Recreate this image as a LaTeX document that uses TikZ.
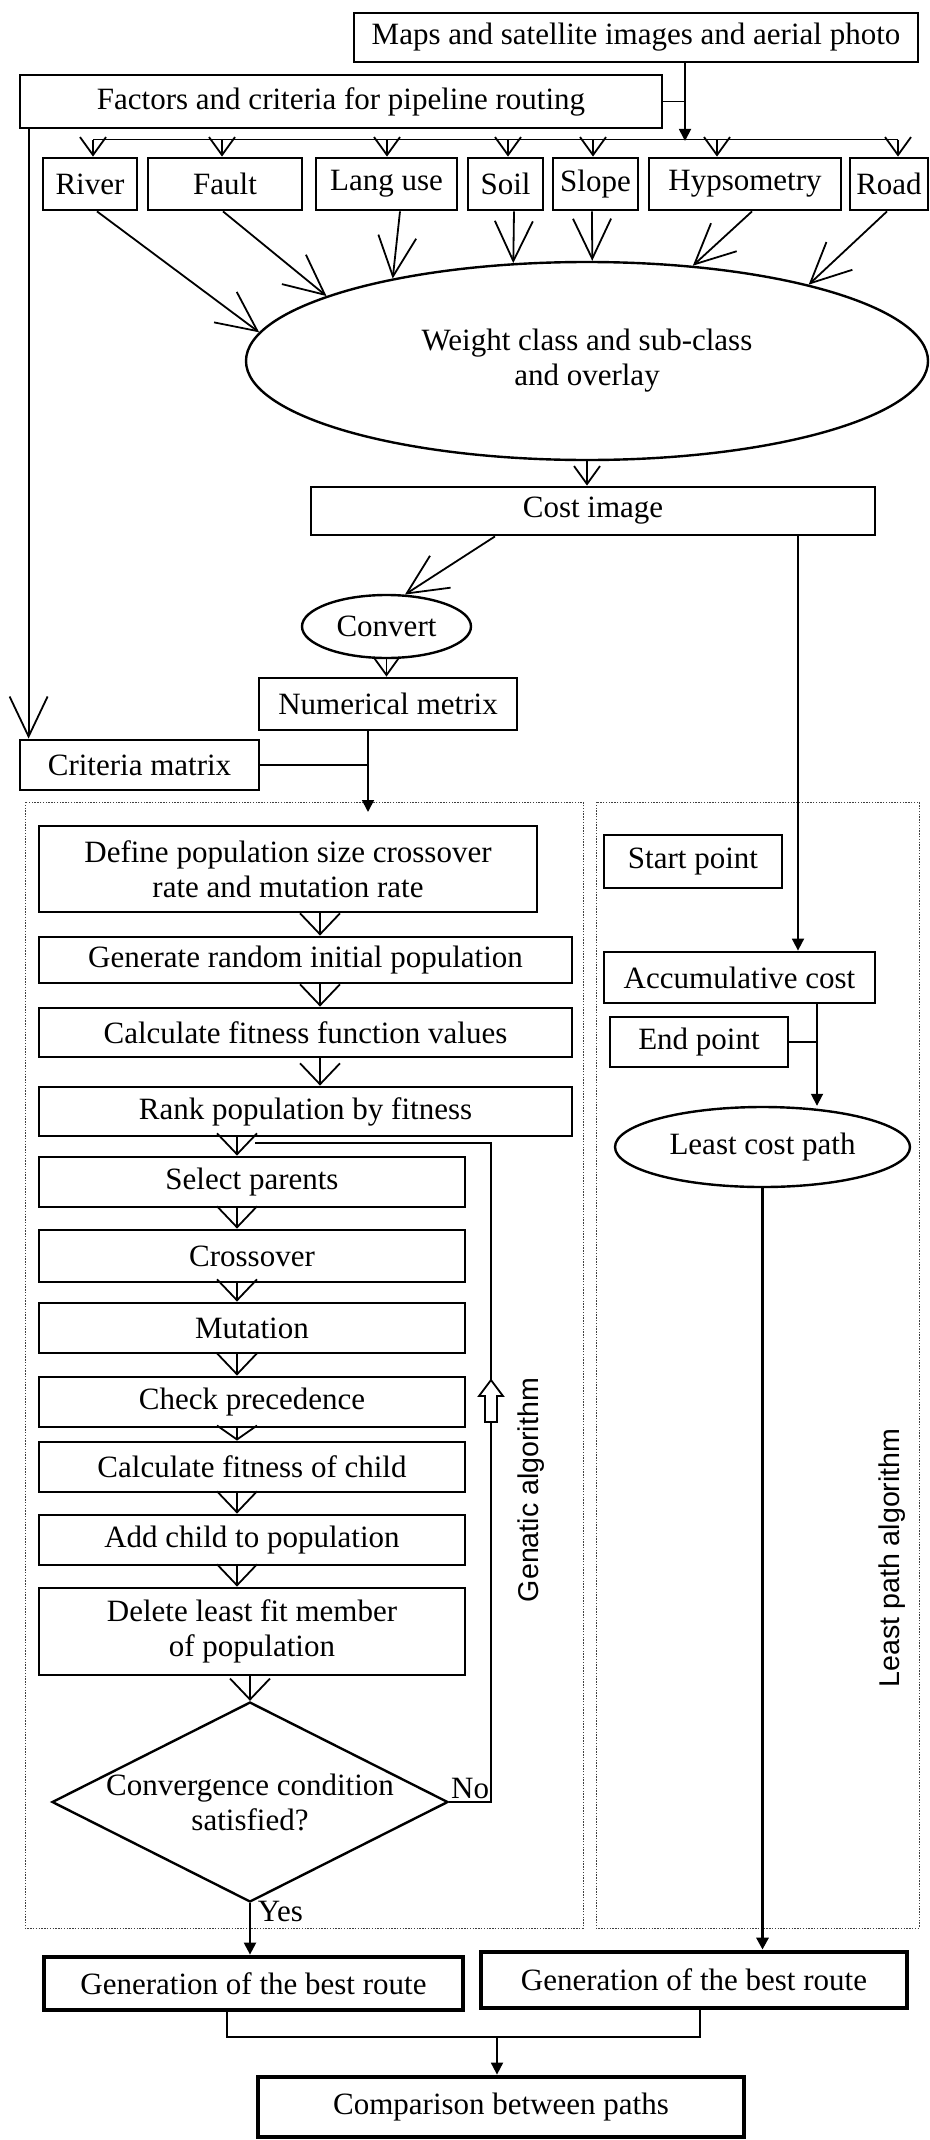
\documentclass[tikz,border=0pt]{standalone}
\usepackage{fontspec}
\setmainfont{Liberation Serif}
\setsansfont{Liberation Sans}
\usetikzlibrary{arrows.meta,positioning,shapes.geometric,calc}

\begin{document}
\begin{tikzpicture}[
  x=0.5pt, y=-0.5pt,
  font=\fontsize{15.5}{17.5}\selectfont, line width=0.9pt,
  wh/.style 2 args={minimum width=#1*0.5pt,minimum height=#2*0.5pt},
  box/.style={draw,line width=1.4pt,inner sep=1pt,align=center},
  bold box/.style={box,line width=2.4pt},
  oval/.style={draw,ellipse,line width=1.2pt,inner sep=0pt,align=center},
  decision/.style={draw,diamond,aspect=2,line width=1.2pt,inner xsep=-8pt,inner ysep=0pt,align=center},
  dotframe/.style={draw=black!75,line width=0.5pt,dash pattern=on 0.7pt off 0.7pt},
  sidelabel/.style={rotate=90,font=\sffamily\fontsize{14.3}{16}\selectfont},
  tipS/.style={-{Straight Barb[length=9pt,width=13pt]}},
  tipM/.style={-{Straight Barb[length=10.5pt,width=20pt]}},
  tipL/.style={-{Straight Barb[length=20pt,width=19pt]}},
  tipF/.style={-{Triangle[length=6pt,width=6pt]}}
]
\useasboundingbox (0,0) rectangle (930,2140);
\draw[dotframe] (25,802) rectangle (583,1928);
\draw[dotframe] (596,802) rectangle (919,1928);

\node[box,wh={564}{49}] (maps) at (636,37.5) {Maps and satellite images and aerial photo};
\node[box,wh={642}{53}] (factors) at (341,101.5) {Factors and criteria for pipeline routing};
\node[box,wh={94}{52}] (river) at (90,184) {River};
\node[box,wh={154}{52}] (fault) at (225,184) {Fault};
\node[box,wh={141}{52}] (languse) at (386.5,184) {Lang use};
\node[box,wh={75}{52}] (soil) at (505.5,184) {Soil};
\node[box,wh={85}{52}] (slope) at (595.5,184) {Slope};
\node[box,wh={192}{52}] (hypso) at (745,184) {Hypsometry};
\node[box,wh={78}{52}] (road) at (889,184) {Road};
\node[oval,wh={682}{198}] (weight) at (587,361) {Weight class and sub-class\\and overlay};
\node[box,wh={564}{48}] (cost) at (593,511) {Cost image};
\node[oval,wh={169}{63}] (convert) at (386.5,626.5) {Convert};
\node[box,wh={258}{52}] (numerical) at (388,704) {Numerical metrix};
\node[box,wh={239}{50}] (criteria) at (139.5,765) {Criteria matrix};

\node[box,wh={498}{86}] (define) at (288,869) {Define population size crossover\\rate and mutation rate};
\node[box,wh={533}{46}] (generate) at (305.5,960) {Generate random initial population};
\node[box,wh={533}{49}] (fitness) at (305.5,1032.5) {Calculate fitness function values};
\node[box,wh={533}{49}] (rank) at (305.5,1111.5) {Rank population by fitness};
\node[box,wh={426}{50}] (select) at (252,1182) {Select parents};
\node[box,wh={426}{52}] (crossover) at (252,1256) {Crossover};
\node[box,wh={426}{50}] (mutation) at (252,1328) {Mutation};
\node[box,wh={426}{50}] (check) at (252,1402) {Check precedence};
\node[box,wh={426}{50}] (childfit) at (252,1467) {Calculate fitness of child};
\node[box,wh={426}{50}] (addchild) at (252,1540) {Add child to population};
\node[box,wh={426}{87}] (delete) at (252,1631.5) {Delete least fit member\\of population};
\node[decision,wh={396}{200}] (converge) at (250,1802) {Convergence condition\\satisfied?};

\node[box,wh={178}{53}] (start) at (693,861.5) {Start point};
\node[box,wh={271}{51}] (accum) at (739.5,977.5) {Accumulative cost};
\node[box,wh={178}{50}] (endpt) at (699,1042) {End point};
\node[oval,wh={295}{80}] (leastcost) at (762.5,1147) {Least cost path};

\node[bold box,wh={419}{53}] (genga) at (253.5,1983.5) {Generation of the best route};
\node[bold box,wh={426}{56}] (genlp) at (694,1980) {Generation of the best route};
\node[bold box,wh={486}{60}] (compare) at (501,2107) {Comparison between paths};

\node[sidelabel] (galabel) at (531,1490) {Genatic algorithm};
\node[sidelabel] (lplabel) at (892,1558) {Least path algorithm};

\coordinate (bus) at (685,141);
\coordinate (gaentry) at (368,812);
\coordinate (colA) at (320,0);
\coordinate (colB) at (237,0);
\coordinate (colC) at (798,0);
\coordinate (colD) at (817,0);
\coordinate (loopc) at (491,1143);
\coordinate (loopin) at (255,1143);
\coordinate (joint) at (497,2037);

\draw[tipF] (maps.south -| bus) -- (bus);
\draw (factors.east) -- (factors.east -| bus);
\draw ([xshift=1.5pt,yshift=8.5pt]river.north) -- ([xshift=4.5pt,yshift=8.5pt]road.north);
\foreach \b/\dx in {river/1.5,fault/-1.5,languse/0.25,soil/1.25,slope/-1.25,hypso/-14,road/4.5}
  \draw[tipS] ([xshift=\dx pt,yshift=8.5pt]\b.north) -- ([xshift=\dx pt]\b.north);
\foreach \b/\dx/\a in {river/3.5/175,fault/-1/166,languse/6.75/157,soil/4.25/127,slope/-1.75/87,hypso/3.5/42,road/-1/19}
  \draw[tipL] ([xshift=\dx pt]\b.south) -- (weight.\a);

\draw[tipS] (weight.south) -- (weight.south |- cost.north);
\draw[tipL] ([xshift=-49pt]cost.south) -- (convert.60);
\draw[tipS] (convert.south) -- (convert.south |- numerical.north);
\draw[tipL] ([xshift=5pt]factors.south west) -- ([xshift=5pt]criteria.north west);
\draw[tipF] ([xshift=-10pt]numerical.south) -- (gaentry);
\draw (criteria.east) -- (criteria.east -| gaentry);

\draw[tipM] (define.south -| colA) -- (generate.north -| colA);
\draw[tipM] (generate.south -| colA) -- (fitness.north -| colA);
\draw[tipM] (fitness.south -| colA) -- (rank.north -| colA);
\draw[tipM] (rank.south -| colB) -- (select.north -| colB);
\foreach \u/\v in {select/crossover,crossover/mutation,mutation/check,childfit/addchild,addchild/delete}
  \draw[tipM] (\u.south -| colB) -- (\v.north -| colB);
\draw[-{Straight Barb[length=7pt,width=20pt]}] (check.south -| colB) -- (childfit.north -| colB);
\draw[tipM] (delete.south -| converge.north) -- (converge.north);

\draw (converge.east) -| node[pos=0.25,above,inner sep=1pt]{No} (loopc) -- (loopin);
\draw[fill=white] (485,1422) -- (485,1396) -- (479,1396) -- (491,1380) -- (503,1396) -- (497,1396) -- (497,1422) -- cycle;
\draw[tipF,line width=1.1pt] (converge.south) -- node[pos=0.17,right]{Yes} (converge.south |- genga.north);

\draw[tipF] (cost.south -| colC) -- (accum.north -| colC);
\draw[tipF] (accum.south -| colD) -- (leastcost.north -| colD);
\draw (endpt.east) -- (endpt.east -| colD);
\draw[tipF,line width=1.6pt] (leastcost.south) -- (leastcost.south |- genlp.north);

\draw ([xshift=-13.25pt]genga.south) |- (joint) -| ([xshift=3pt]genlp.south);
\draw[tipF] (joint) -- (joint |- compare.north);
\end{tikzpicture}
\end{document}
